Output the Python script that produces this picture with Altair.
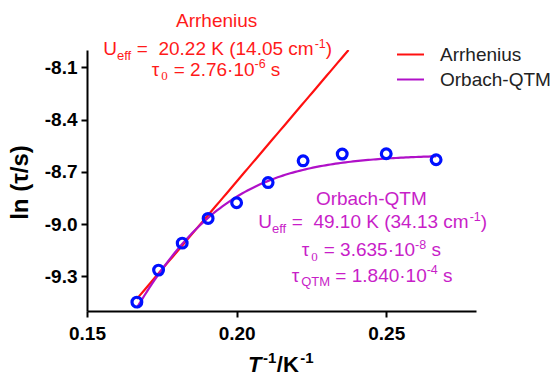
import numpy as np
import pandas as pd
import altair as alt

# Relaxation times vs temperature
temperature_K = [6.0, 5.75, 5.5, 5.25, 5.0, 4.75, 4.5, 4.25, 4.0, 3.75]
ln_tau = [-9.449, -9.265, -9.110, -8.968, -8.878, -8.762, -8.637, -8.598, -8.596, -8.631]

# Fit parameters
arr_Ueff_K = 20.22
arr_tau0_s = 2.76e-6
orb_Ueff_K = 49.10
orb_tau0_s = 3.635e-8
orb_tauQTM_s = 1.840e-4

series_names = ["Arrhenius", "Orbach-QTM"]
series_colors = ["#ff1010", "#b010c8"]

x_ticks = [0.15, 0.20, 0.25]
y_ticks = [-8.1, -8.4, -8.7, -9.0, -9.3]
X_DOMAIN = [0.15, 0.28]
Y_DOMAIN = [-9.5, -8.0]

# Plot-area placement on the canvas
LEFT, TOP, W, H = 87, 50, 389, 261
CANVAS_W, CANVAS_H = 550, 376

FONT = "Liberation Sans"
SERIF = "Liberation Serif"
RED = "#ff1a1a"
PURPLE = "#c81ec8"

points = pd.DataFrame({"invT": [1.0 / t for t in temperature_K], "lntau": ln_tau})

# Fitted curves evaluated from the stated parameters
inv_lo = 1.0 / max(temperature_K)
inv_hi = 1.0 / min(temperature_K)
arr_end = (Y_DOMAIN[1] - np.log(arr_tau0_s)) / arr_Ueff_K
x_arr = np.linspace(inv_lo, arr_end, 60)
y_arr = np.log(arr_tau0_s) + arr_Ueff_K * x_arr
x_orb = np.linspace(inv_lo, inv_hi, 120)
rate = np.exp(-orb_Ueff_K * x_orb) / orb_tau0_s + 1.0 / orb_tauQTM_s
y_orb = np.log(1.0 / rate)

fits = pd.concat([
    pd.DataFrame({"invT": x_arr, "lntau": y_arr, "model": series_names[0]}),
    pd.DataFrame({"invT": x_orb, "lntau": y_orb, "model": series_names[1]}),
])

x_enc = alt.X(
    "invT:Q",
    scale=alt.Scale(domain=X_DOMAIN, nice=False, zero=False),
    axis=alt.Axis(values=x_ticks, format=".2f", title=None, labelFlush=False, labelPadding=7),
)
y_enc = alt.Y(
    "lntau:Q",
    scale=alt.Scale(domain=Y_DOMAIN, nice=False, zero=False),
    axis=alt.Axis(
        values=y_ticks,
        labelExpr="'-' + format(abs(datum.value), '.1f')",
        labelPadding=4,
        title="ln (\u03c4/s)",
        titleX=20 - LEFT,
        titleY=182 - TOP,
        titleAngle=270,
        titleAlign="center",
        titleBaseline="middle",
        titleFontSize=24,
        titleFontWeight="bold",
        titleFont=FONT,
        titleColor="black",
    ),
)

lines = alt.Chart(fits).mark_line(strokeWidth=2.2, clip=True).encode(
    x=x_enc,
    y=y_enc,
    color=alt.Color(
        "model:N",
        scale=alt.Scale(domain=series_names, range=series_colors),
        legend=alt.Legend(
            title=None,
            orient="none",
            legendX=309,
            legendY=-10,
            symbolType="stroke",
            symbolSize=729,
            symbolStrokeWidth=2,
            labelFont=FONT,
            labelFontSize=19,
            labelColor="#222222",
            labelOffset=15,
            rowPadding=0,
        ),
    ),
    detail="model:N",
)

dots = alt.Chart(points).mark_point(
    shape="circle", filled=False, color="#0010ff", strokeWidth=3.2, size=95, opacity=1
).encode(x="invT:Q", y="lntau:Q")

one_row = pd.DataFrame({"k": [0]})

# Advance widths (per em) of the sans face, for flowing sub/superscript runs
ADV = {
    " ": .278, "(": .333, ")": .333, ".": .278, "\u00b7": .278, "=": .584, "-": .333,
    "/": .278, "0": .556, "1": .556, "2": .556, "3": .556, "4": .556, "5": .556,
    "6": .556, "7": .556, "8": .556, "9": .556, "K": .667, "U": .722, "e": .556,
    "f": .278, "c": .5, "m": .833, "s": .5, "\u03c4": .5, "Q": .778, "T": .611, "M": .833,
}
ADV_BOLD = {"K": .722, "T": .611, "/": .278, "-": .333, "1": .556}


def width(text, size, bold=False):
    table = ADV_BOLD if bold else ADV
    return sum(table.get(ch, ADV.get(ch, .556)) for ch in text) * size


def piece(text, x, y, size, color, font=FONT, weight="normal", style="normal", align="left"):
    """A single text run, placed by canvas pixel position."""
    return alt.Chart(one_row).mark_text(
        text=text, align=align, baseline="alphabetic", fontSize=size,
        font=font, fontWeight=weight, fontStyle=style, color=color,
    ).encode(x=alt.value(x - LEFT), y=alt.value(y - TOP))


def flow(runs, x0, base, color, weight="normal", gap=0.0):
    """Lay runs (text, size, rise, font, style) left to right from x0.

    Leading spaces are turned into an advance, since SVG drops them;
    raised runs get a hair of extra room on the left.
    """
    out, x = [], x0
    bold = weight == "bold"
    for text, size, rise, font, style in runs:
        body = text.lstrip(" ")
        x += width(text[: len(text) - len(body)], size, bold)
        if rise < 0:
            x += 1.0
        out.append(piece(body, x, base + rise, size, color, font, weight, style))
        x += width(body, size, bold) + gap
    return out


BIG, SMALL = 19, 13
sub = lambda t, f=FONT: (t, SMALL, 4.5, f, "normal")
sup = lambda t: (t, 12.5, -7.5, FONT, "normal")
txt = lambda t: (t, BIG, 0, FONT, "normal")

texts = [piece("Arrhenius", 216.7, 27, BIG, RED, align="center")]
texts += flow([txt("U"), sub("eff"), txt(" ="), txt("  20.22 K (14.05 cm"), sup("-1"), txt(")")], 103.3, 55, RED)
texts += flow([txt("\u03c4"), sub("0", SERIF), txt(" = 2.76\u00b710"), sup("-6"), txt(" s")], 151.7, 75.7, RED)

texts += [piece("Orbach-QTM", 371.3, 205, BIG, PURPLE, align="center")]
texts += flow([txt("U"), sub("eff"), txt(" ="), txt("  49.10 K (34.13 cm"), sup("-1"), txt(")")], 258.3, 228, PURPLE)
texts += flow([txt("\u03c4"), sub("0", SERIF), txt(" = 3.635\u00b710"), sup("-8"), txt(" s")], 301.7, 256, PURPLE)
texts += flow([txt("\u03c4"), sub("QTM"), txt(" = 1.840\u00b710"), sup("-4"), txt(" s")], 291.7, 281.7, PURPLE)

# x-axis title T^-1/K^-1
texts += flow(
    [("T", 22, 0, FONT, "italic"), ("-1", 15, -9, FONT, "normal"),
     ("/K", 22, 0, FONT, "normal"), ("-1", 15, -9, FONT, "normal")],
    248, 372, "black", weight="bold", gap=0.5,
)

chart = alt.layer(lines, dots, *texts).properties(
    width=W,
    height=H,
    autosize=alt.AutoSizeParams(type="none"),
    padding={"left": LEFT, "top": TOP, "right": CANVAS_W - LEFT - W, "bottom": CANVAS_H - TOP - H},
).configure_view(stroke=None).configure_axis(
    grid=False,
    domainColor="black",
    domainWidth=2,
    tickColor="black",
    tickWidth=2,
    tickSize=6,
    labelFont=FONT,
    labelFontSize=19,
    labelFontWeight="bold",
    labelColor="black",
)

chart.save("out.html", embed_options={"renderer": "svg", "actions": False})
